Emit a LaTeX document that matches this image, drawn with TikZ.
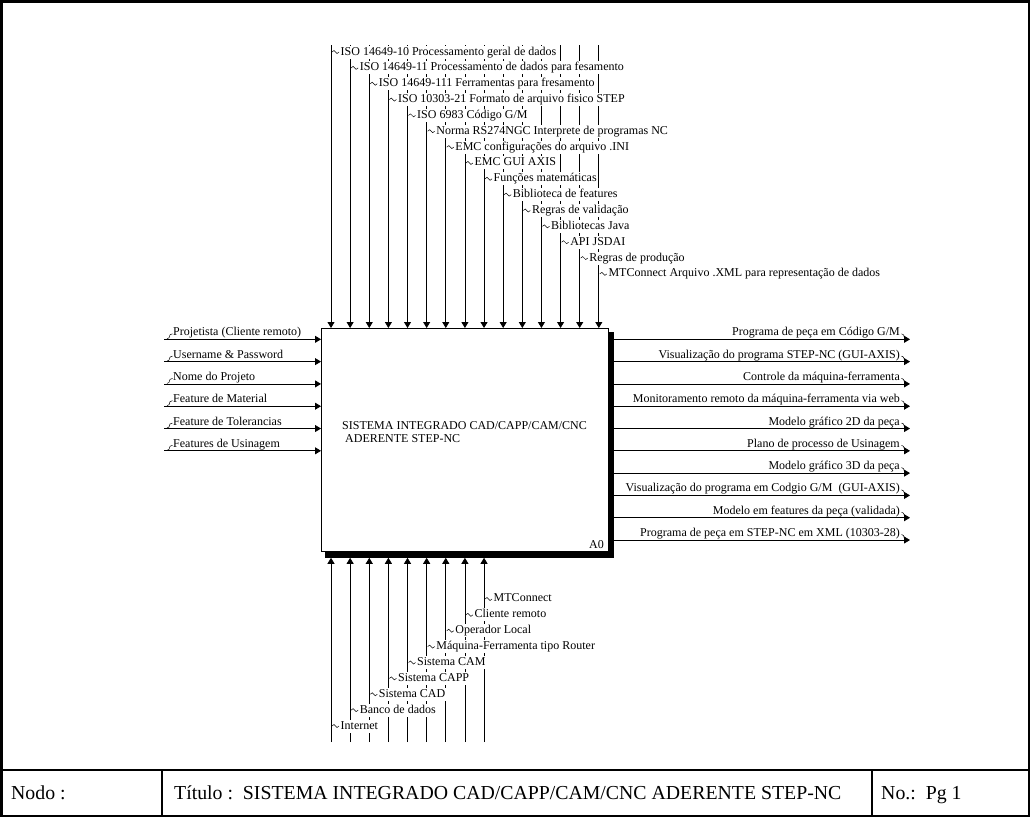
\documentclass[tikz,border=0pt]{standalone}
\usepackage{fontspec}
\setmainfont{Liberation Serif}
\usetikzlibrary{arrows.meta}

\begin{document}
\begin{tikzpicture}
  [x=1pt, y=-1pt,
   every node/.style={font=\fontsize{12}{13}\selectfont, inner sep=1pt},
   frame/.style={line width=2.5pt},
   flow/.style={-{Triangle[length=6pt,width=7pt]}, line width=0.8pt},
   squig/.style={line width=0.5pt},
   lbl/.style={anchor=west, text height=8.5pt, text depth=2.5pt, fill=white},
   big/.style={font=\fontsize{19.8}{21}\selectfont, anchor=base west}]
  \useasboundingbox (0,0) rectangle (1030,817);
  % frame and title block
  \draw[frame] (1.25,1.25) rectangle (1028.75,815.75);
  \draw[frame] (0,770) -- (1030,770);
  \draw[frame] (162,770) -- (162,817);
  \draw[frame] (872,770) -- (872,817);
  \node[big] (nodo) at (10,799) {Nodo :};
  \node[big] (titulo) at (173,799) {Título :\ \ SISTEMA INTEGRADO CAD/CAPP/CAM/CNC ADERENTE STEP-NC};
  \node[big] (pag) at (880,799) {No.:\ \ Pg 1};
  % activity box
  \node[draw, fill=white, line width=0.8pt, anchor=north west, inner sep=0pt,
        minimum width=287pt, minimum height=223pt] (sys) at (321,328) {};
  \fill ([yshift=-4pt]sys.north east) rectangle ([xshift=5pt,yshift=-6pt]sys.south east);
  \fill ([xshift=4pt]sys.south west) rectangle ([xshift=5pt,yshift=-6pt]sys.south east);
  \node[anchor=base west] (sysA) at (341,429) {SISTEMA INTEGRADO CAD/CAPP/CAM/CNC};
  \node[anchor=base west] (sysB) at (344,442) {ADERENTE STEP-NC};
  \node[anchor=base east] (a0) at (605,548) {A0};
  % control and mechanism arrows
  \foreach \i in {1,...,15} {
    \pgfmathsetmacro\cx{331+(\i-1)*19.13}
    \coordinate (ctl\i) at (\cx,45);
    \draw[flow] (ctl\i) -- (ctl\i |- sys.north);
  }
  \foreach \i in {1,...,9} {
    \pgfmathsetmacro\cx{331+(\i-1)*19.13}
    \coordinate (mec\i) at (\cx,742);
    \draw[flow] (mec\i) -- ([yshift=-6pt]mec\i |- sys.south);
  }
  % their labels
  \foreach \t [count=\i] in {ISO 14649-10 Processamento geral de dados,
      ISO 14649-11 Processamento de dados para fesamento,
      ISO 14649-111 Ferramentas para fresamento,
      ISO 10303-21 Formato de arquivo fisico STEP,
      ISO 6983 Código G/M,
      Norma RS274NGC Interprete de programas NC,
      EMC configurações do arquivo .INI,
      EMC GUI AXIS,
      Funções matemáticas,
      Biblioteca de features,
      Regras de validação,
      Bibliotecas Java,
      API JSDAI,
      Regras de produção,
      MTConnect Arquivo .XML para representação de dados}
  {
    \pgfmathsetmacro\cy{52+(\i-1)*15.85}
    \node[lbl] (ctlL\i) at ([xshift=8.5pt]ctl\i |- 0,\cy) {\t};
    \draw[squig] ([xshift=1pt]ctl\i |- ctlL\i.west) -- ++(2,-1.5) -- ++(3,3) -- ++(2,-1.5);
  }
  \foreach \t [count=\i] in {Internet, Banco de dados, Sistema CAD, Sistema CAPP,
      Sistema CAM, Máquina-Ferramenta tipo Router, Operador Local,
      Cliente remoto, MTConnect}
  {
    \pgfmathsetmacro\cy{726-(\i-1)*15.88}
    \node[lbl] (mecL\i) at ([xshift=8.5pt]mec\i |- 0,\cy) {\t};
    \draw[squig] ([xshift=1pt]mec\i |- mecL\i.west) -- ++(2,-1.5) -- ++(3,3) -- ++(2,-1.5);
  }
  % inputs
  \foreach \t [count=\i] in {Projetista (Cliente remoto), Username \& Password,
      Nome do Projeto, Feature de Material, Feature de Tolerancias,
      Features de Usinagem}
  {
    \pgfmathsetmacro\cy{339.3+(\i-1)*22.3}
    \coordinate (inp\i) at (164,\cy);
    \draw[flow] (inp\i) -- (inp\i -| sys.west);
    \node[anchor=base west] (inpL\i) at (172,\cy-3.5) {\t};
    \draw[squig] (167,\cy-0.5) -- (169,\cy-1.5) -- (170,\cy-4.5) -- (172.5,\cy-5.5);
  }
  % outputs
  \foreach \t [count=\i] in {Programa de peça em Código G/M,
      Visualização do programa STEP-NC (GUI-AXIS),
      Controle da máquina-ferramenta,
      Monitoramento remoto da máquina-ferramenta via web,
      Modelo gráfico 2D da peça,
      Plano de processo de Usinagem,
      Modelo gráfico 3D da peça,
      Visualização do programa em Codgio G/M\ \ (GUI-AXIS),
      Modelo em features da peça (validada),
      Programa de peça em STEP-NC em XML (10303-28)}
  {
    \pgfmathsetmacro\cy{339.3+(\i-1)*22.3}
    \coordinate (out\i) at (910,\cy);
    \draw[flow] ([xshift=5pt]sys.east |- out\i) -- (out\i);
    \node[anchor=base east] (outL\i) at (901,\cy-3.5) {\t};
    \draw[squig] (901.5,\cy-5.5) -- (903.5,\cy-4.5) -- (904.5,\cy-1.5) -- (906.5,\cy-0.5);
  }
\end{tikzpicture}
\end{document}
